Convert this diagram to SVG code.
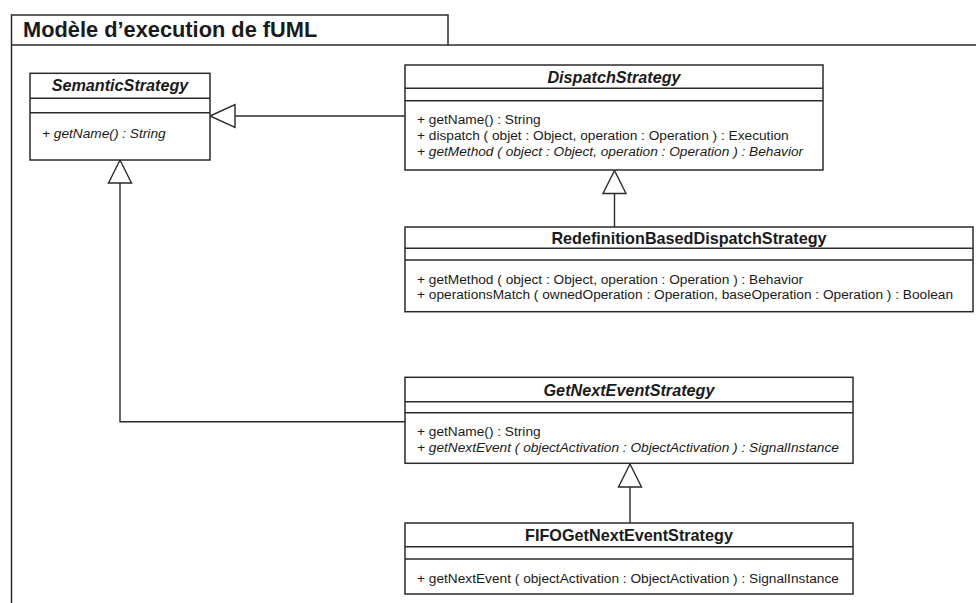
<svg xmlns="http://www.w3.org/2000/svg" width="976" height="603" viewBox="0 0 976 603">
<style>
text{font-family:"Liberation Sans",Arial,sans-serif;fill:#1a1a1a}
.box{fill:#fff;stroke:#2a2a2a;stroke-width:1.5}
.sep{stroke:#2a2a2a;stroke-width:1.5;fill:none}
.name{font-size:16.2px;font-weight:bold;text-anchor:middle}
.abs{font-style:italic}
.op{font-size:13.7px}
.it{font-style:italic}
.conn{stroke:#2a2a2a;stroke-width:1.4;fill:none}
.tri{fill:#fff;stroke:#2a2a2a;stroke-width:1.4}
.frame{fill:none;stroke:#2a2a2a;stroke-width:1.5}
.title{font-size:21.8px;font-weight:bold}
</style>
<rect width="976" height="603" fill="#fff"/>
<g id="package">
<path class="frame" d="M11.5,603 V15 H448 V45"/>
<path class="frame" d="M11.5,45 H976"/>
<text class="title" x="23" y="36.5">Modèle d’execution de fUML</text>
</g>
<g id="connectors">
<polyline class="conn" points="405,116 235,116"/>
<polygon class="tri" points="210,116 235,104.5 235,127.5"/>
<polyline class="conn" points="405,421.7 120,421.7 120,183"/>
<polygon class="tri" points="120,160 108.5,183 131.5,183"/>
<polyline class="conn" points="614.5,227 614.5,193.5"/>
<polygon class="tri" points="614.5,170.5 603,193.5 626,193.5"/>
<polyline class="conn" points="630,523 630,487"/>
<polygon class="tri" points="630,464 618.5,487 641.5,487"/>
</g>
<g id="SemanticStrategy">
<rect class="box" x="30" y="73.3" width="180" height="86.7"/>
<path class="sep" d="M30,98.3 H210 M30,112.7 H210"/>
<text class="name abs" x="120" y="91">SemanticStrategy</text>
<text class="op it" x="42" y="137.5">+ getName() : String</text>
</g>
<g id="DispatchStrategy">
<rect class="box" x="405" y="65" width="418" height="105"/>
<path class="sep" d="M405,88.3 H823 M405,100.7 H823"/>
<text class="name abs" x="614" y="83">DispatchStrategy</text>
<text class="op" x="417" y="124.3">+ getName() : String</text>
<text class="op" x="417" y="140">+ dispatch ( objet : Object, operation : Operation ) : Execution</text>
<text class="op it" x="417" y="155.7">+ getMethod ( object : Object, operation : Operation ) : Behavior</text>
</g>
<g id="RedefinitionBasedDispatchStrategy">
<rect class="box" x="405" y="227" width="568" height="84.7"/>
<path class="sep" d="M405,248.3 H973 M405,260 H973"/>
<text class="name" x="689" y="243.5">RedefinitionBasedDispatchStrategy</text>
<text class="op" x="417" y="283.6">+ getMethod ( object : Object, operation : Operation ) : Behavior</text>
<text class="op" x="417" y="299.3">+ operationsMatch ( ownedOperation : Operation, baseOperation : Operation ) : Boolean</text>
</g>
<g id="GetNextEventStrategy">
<rect class="box" x="405" y="377.3" width="448" height="86"/>
<path class="sep" d="M405,401.7 H853 M405,412.7 H853"/>
<text class="name abs" x="629" y="395.5">GetNextEventStrategy</text>
<text class="op" x="417" y="436.3">+ getName() : String</text>
<text class="op it" x="417" y="452">+ getNextEvent ( objectActivation : ObjectActivation ) : SignalInstance</text>
</g>
<g id="FIFOGetNextEventStrategy">
<rect class="box" x="405" y="523" width="448" height="71"/>
<path class="sep" d="M405,546.7 H853 M405,559 H853"/>
<text class="name" x="629" y="541">FIFOGetNextEventStrategy</text>
<text class="op" x="417" y="582.6">+ getNextEvent ( objectActivation : ObjectActivation ) : SignalInstance</text>
</g>
</svg>
